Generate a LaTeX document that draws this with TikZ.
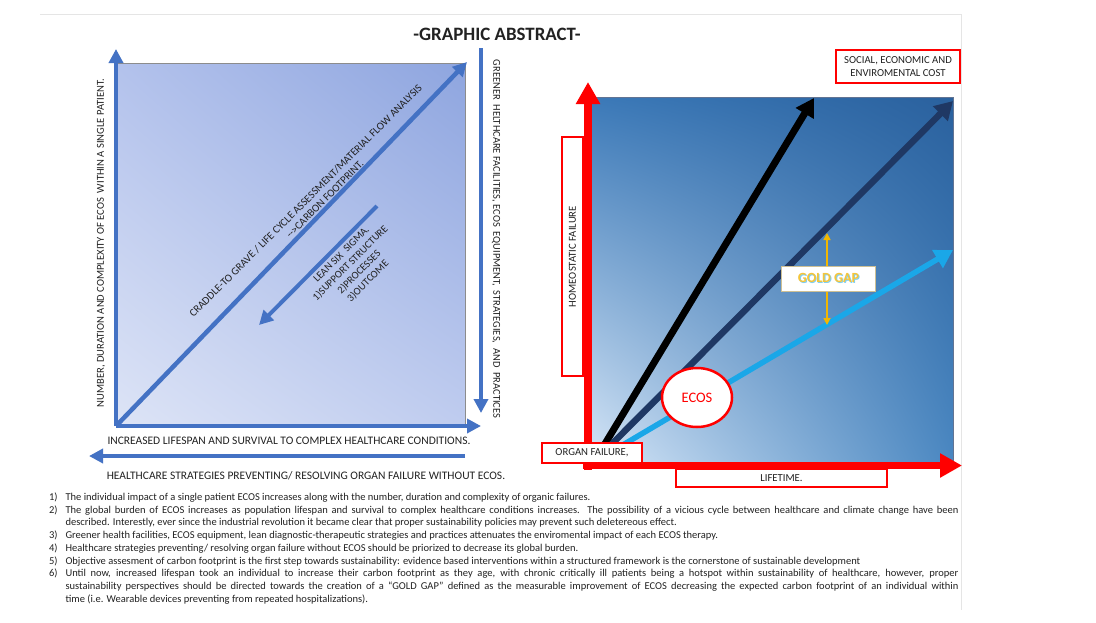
\documentclass[tikz,border=0pt]{standalone}
\usepackage{fontspec}
\setmainfont{Carlito}
\usetikzlibrary{arrows.meta,positioning,shapes.geometric,shadings}
\definecolor{officeblue}{HTML}{4472C4}
\definecolor{navyline}{HTML}{1F3864}
\definecolor{skyline}{HTML}{1AA7E8}
\definecolor{goldline}{HTML}{F2B700}
\definecolor{goldtext}{HTML}{F5C53A}
\definecolor{redline}{HTML}{FF0000}
\definecolor{textgray}{HTML}{222222}
\definecolor{lpaneLL}{HTML}{DDE4F6}
\definecolor{lpaneUL}{HTML}{B3C2EC}
\definecolor{lpaneUR}{HTML}{8EA5DF}
\definecolor{lpaneLR}{HTML}{BFCCEF}
\definecolor{rpaneLL}{HTML}{D6E6F7}
\definecolor{rpaneUL}{HTML}{3B79B8}
\definecolor{rpaneUR}{HTML}{2A619E}
\definecolor{rpaneLR}{HTML}{4A87C1}

\begin{document}
\begin{tikzpicture}[x=1pt,y=-1pt,
        every node/.append style={text=textgray},
        capslabel/.style={font=\fontsize{#1}{12.5}\selectfont},
        capslabel/.default=10.6,
        bluearrow/.style={officeblue,line width=4.5pt,-{Triangle[length=14pt,width=14pt]}},
        redaxis/.style={redline,line width=7.5pt,-{Triangle[length=22pt,width=23pt]}},
        vecarrow/.style={-{Triangle[length=18pt,width=20pt]}},
        redbox/.style={draw=redline,line width=2pt,fill=white,inner sep=1pt,
            font=\fontsize{10.7}{13}\selectfont}]
    \useasboundingbox (0,0) rectangle (1096,622);
    \fill[white] (0,0) rectangle (1096,622);
    \draw[black!10] (40,14) -- (961,14) -- (961,610);
    \node[font=\fontsize{18.9}{20}\selectfont\bfseries] (title) at (497,34) {-GRAPHIC ABSTRACT-};

    % left panel
    \shade[lower left=lpaneLL,upper left=lpaneUL,upper right=lpaneUR,lower right=lpaneLR]
        (116,63) rectangle (465,426);
    \draw[black!45,line width=0.6pt] (116,63) rectangle (465,426);
    \coordinate (lo) at (116,426);
    \coordinate (ltop) at (116,49);
    \coordinate (lright) at (481,426);
    \coordinate (ldiag) at (467,62);
    \coordinate (gtop) at (481,48);
    \coordinate (gbot) at (481,413);
    \coordinate (hstart) at (465,456);
    \coordinate (hend) at (89,456);
    \coordinate (lstart) at (377,206);
    \coordinate (lend) at (259,325);
    \draw[bluearrow] (lo) -- (ltop);
    \draw[bluearrow] (lo) -- (lright);
    \draw[bluearrow] (lo) -- (ldiag);
    \draw[bluearrow] (gtop) -- (gbot);
    \draw[bluearrow] (hstart) -- (hend);
    \draw[bluearrow,line width=4pt] (lstart) -- (lend);
    \node[capslabel,rotate=90] (ylabel) at (101,243) {NUMBER, DURATION AND COMPLEXITY OF ECOS\ \ WITHIN A SINGLE PATIENT.};
    \node[capslabel=10.5,rotate=-90] (greener) at (496,239) {GREENER\ \ HELTHCARE FACILITIES, ECOS\ \ EQUIPMENT,\ \ STRATEGIES,\ \ AND\ \ PRACTICES};
    \node[capslabel=11.5] (lifespan) at (289,441) {INCREASED LIFESPAN AND SURVIVAL TO COMPLEX HEALTHCARE CONDITIONS.};
    \node[capslabel=11.5] (strategies) at (306,476) {HEALTHCARE STRATEGIES PREVENTING/ RESOLVING ORGAN FAILURE WITHOUT ECOS.};
    \node[capslabel=10.8,rotate=45,align=center] (craddle) at (310,205)
        {CRADDLE-TO GRAVE / LIFE CYCLE ASSESSMENT/MATERIAL FLOW ANALYSIS\\\hspace*{29pt}-{}->CARBON FOOTPRINT.};
    \node[capslabel=10.5,rotate=45,align=center] (sigma) at (355,268)
        {LEAN SIX\ \ SIGMA.\\1)SUPPORT STRUCTURE\\2)PROCESSES\\3)OUTCOME};

    % right panel
    \shade[lower left=rpaneLL,upper left=rpaneUL,upper right=rpaneUR,lower right=rpaneLR]
        (590,97) rectangle (953,462);
    \draw[navyline!70,line width=0.6pt] (590,97) rectangle (953,462);
    \coordinate (ro) at (594,462);
    \coordinate (blacktip) at (814,98);
    \coordinate (navytip) at (953,101);
    \coordinate (skytip) at (953,250);
    \draw[vecarrow,black,line width=7pt] (ro) -- (blacktip);
    \draw[vecarrow,navyline,line width=6.5pt] (ro) -- (navytip);
    \draw[vecarrow,skyline,line width=5.5pt] (ro) -- (skytip);
    \coordinate (rbase) at (588,470);
    \coordinate (rtop) at (588,82);
    \coordinate (xstart) at (583,465.5);
    \coordinate (xtip) at (962,465.5);
    \draw[redaxis] (rbase) -- (rtop);
    \draw[redaxis] (xstart) -- (xtip);
    \coordinate (gaptop) at (827,233);
    \coordinate (gapbot) at (827,325);
    \draw[goldline,line width=1.6pt,{Triangle[length=7pt,width=7pt]}-{Triangle[length=7pt,width=7pt]}] (gapbot) -- (gaptop);
    \node[draw=goldline!40!gray!60,line width=0.8pt,fill=white,minimum width=94pt,minimum height=25pt,
        font=\fontsize{14}{16}\selectfont\bfseries] (goldgap) at (828.5,278.5)
        {\rlap{\hspace{0.9pt}\raisebox{-0.9pt}{\textcolor{skyline!55}{GOLD GAP}}}\textcolor{goldtext}{GOLD GAP}};
    \node[ellipse,draw=redline,line width=2.5pt,fill=white,minimum width=70pt,minimum height=59pt,
        text=redline,font=\fontsize{14.5}{16}\selectfont] (ecos) at (697,397.5) {ECOS};
    \node[redbox,rotate=90,minimum width=239pt,minimum height=21pt] (homeo) at (572.5,256.5) {HOMEOSTATIC FAILURE};
    \node[redbox,minimum width=100pt,minimum height=20pt] (organ) at (592,453) {ORGAN FAILURE,};
    \node[redbox,minimum width=211pt,minimum height=18.5pt] (lifetime) at (781.5,478) {LIFETIME.};
    \node[redbox,align=center,minimum width=124pt,minimum height=33pt] (cost) at (898,66.5)
        {SOCIAL, ECONOMIC AND\\ENVIROMENTAL COST};

    % numbered notes
    \node[anchor=north west,text width=911pt,align=justify,font=\fontsize{10.5}{12.75}\selectfont] (notes) at (44,484) {%
        \begin{list}{\arabic{enumi})}{\usecounter{enumi}\setlength{\leftmargin}{18pt}\setlength{\labelwidth}{10pt}%
            \setlength{\labelsep}{8pt}\setlength{\itemsep}{0pt}\setlength{\parsep}{0pt}\setlength{\topsep}{0pt}}
        \item The individual impact of a single patient ECOS increases along with the number, duration and complexity of organic failures.
        \item The global burden of ECOS increases as population lifespan and survival to complex healthcare conditions increases. The possibility of a vicious cycle between healthcare and climate change have been\linebreak described. Interestly, ever since the industrial revolution it became clear that proper sustainability policies may prevent such deletereous effect.
        \item Greener health facilities, ECOS equipment, lean diagnostic-therapeutic strategies and practices attenuates the enviromental impact of each ECOS therapy.
        \item Healthcare strategies preventing/ resolving organ failure without ECOS should be priorized to decrease its global burden.
        \item Objective assesment of carbon footprint is the first step towards sustainability: evidence based interventions within a structured framework is the cornerstone of sustainable development
        \item Until now, increased lifespan took an individual to increase their carbon footprint as they age, with chronic critically ill patients being a hotspot within sustainability of healthcare, however, proper\linebreak sustainability perspectives should be directed towards the creation of a ``GOLD GAP'' defined as the measurable improvement of ECOS decreasing the expected carbon footprint of an individual within\linebreak time (i.e. Wearable devices preventing from repeated hospitalizations).
        \end{list}};
\end{tikzpicture}
\end{document}
